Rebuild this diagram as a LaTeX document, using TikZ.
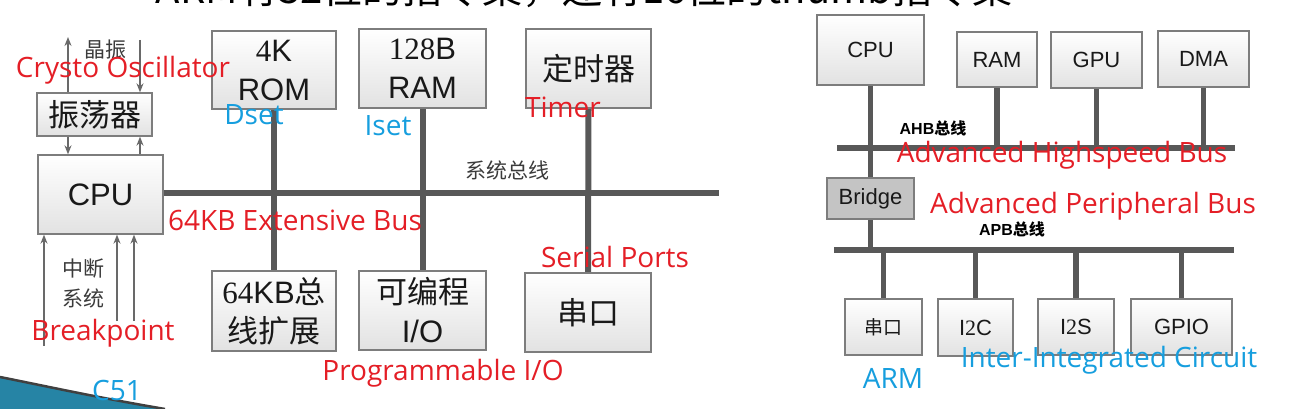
\documentclass[tikz,border=0pt]{standalone}
\usepackage{fontspec}
\setmainfont{Liberation Sans}
\newfontfamily\cjk{Noto Sans CJK SC}
\newfontfamily\digs{Liberation Serif}
\newfontfamily\notefont{Open Sans}
\usetikzlibrary{arrows.meta,backgrounds}

\definecolor{boxline}{RGB}{125,125,125}
\definecolor{boxbot}{RGB}{226,226,226}
\definecolor{busgray}{RGB}{88,88,88}
\definecolor{siggray}{RGB}{105,105,105}
\definecolor{notered}{RGB}{228,30,38}
\definecolor{noteblue}{RGB}{22,158,222}
\definecolor{inktext}{RGB}{25,25,25}
\definecolor{bridgefill}{RGB}{196,196,196}
\definecolor{swoosh}{RGB}{38,132,165}

\tikzset{
  unit/.style={draw=boxline, line width=1.3pt, top color=white, bottom color=boxbot,
    inner sep=0pt, align=center, text=inktext},
  bigunit/.style={unit, font=\fontsize{31}{39}\selectfont},
  smallunit/.style={unit, font=\fontsize{22}{26}\selectfont},
  bus/.style={draw=busgray, line width=6pt},
  thinbus/.style={draw=busgray, line width=5.5pt},
  sig/.style={draw=siggray, line width=1.5pt, -{Stealth[length=9pt,width=7pt]}},
  caption/.style={text=inktext!85, font=\cjk\fontsize{21}{30}\selectfont, align=center, inner sep=0pt},
  busname/.style={text=black, font=\bfseries\fontsize{16}{18}\selectfont, inner sep=0pt},
  rednote/.style={text=notered, font=\notefont\fontsize{28}{30}\selectfont, inner sep=0pt},
  bluenote/.style={text=noteblue, font=\notefont\fontsize{28}{30}\selectfont, inner sep=0pt},
}

\begin{document}
\begin{tikzpicture}[x=1pt, y=-1pt]
\useasboundingbox (0,0) rectangle (1296,409);

% title, cut by the top edge
\node[anchor=base, font=\cjk\fontsize{40}{44}\selectfont, inner sep=0pt] (title) at (584,4)
  {ARM有32位的指令集，还有16位的thumb指令集};

% slide corner
\fill[swoosh] (0,377) .. controls (50,387) and (100,398) .. (165,409) -- (0,409) -- cycle;
\draw[black!75, line width=2.5pt] (0,377) .. controls (50,387) and (100,398) .. (165,409);

% C51 side
\node[bigunit, minimum width=115, minimum height=43] (osc) at (94.5,114.5) {\cjk 振荡器};
\node[bigunit, minimum width=125, minimum height=79] (cpuL) at (100.5,194.5) {CPU};
\node[bigunit, minimum width=124, minimum height=78] (rom) at (274,70) {{\digs 4}K\\ROM};
\node[bigunit, minimum width=127, minimum height=79] (ramL) at (422.5,68.5) {{\digs 128}B\\RAM};
\node[bigunit, minimum width=125, minimum height=79] (timer) at (588.5,68.5) {\cjk 定时器};
\node[bigunit, minimum width=124, minimum height=80] (ext) at (274,311) {{\digs 64}KB{\cjk 总}\\{\cjk 线扩展}};
\node[bigunit, minimum width=127, minimum height=79] (pio) at (422.5,310.5) {{\cjk 可编程}\\I/O};
\node[bigunit, minimum width=126, minimum height=79] (uartL) at (588,312.5) {\cjk 串口};

\coordinate (sysend) at (719,193);
\coordinate (xtalA) at (68,37);
\coordinate (xtalB) at (140,40);
\coordinate (irqA) at (44,346);
\coordinate (irqB) at (117,321);
\coordinate (irqC) at (134,321);

\begin{pgfonlayer}{background}
  \draw[bus] (cpuL.east |- sysend) -- (sysend);
  \draw[bus] (rom.south) -- (ext.north);
  \draw[bus] (ramL.south) -- (pio.north);
  \draw[bus] (timer.south) -- (uartL.north);
\end{pgfonlayer}

\draw[sig] (osc.north -| xtalA) -- (xtalA);
\draw[sig] (xtalB) -- (osc.north -| xtalB);
\draw[sig] (osc.south -| xtalA) -- (cpuL.north -| xtalA);
\draw[sig] (cpuL.north -| xtalB) -- (osc.south -| xtalB);
\draw[sig] (irqA) -- (cpuL.south -| irqA);
\draw[sig] (irqB) -- (cpuL.south -| irqB);
\draw[sig] (irqC) -- (cpuL.south -| irqC);

\node[caption] (xtal) at (105,50) {晶振};
\node[caption] (irq) at (83,283) {中断\\系统};
\node[caption] (sysbus) at (507,170) {系统总线};

% ARM side
\node[smallunit, minimum width=107, minimum height=70] (cpuR) at (870.5,50) {CPU};
\node[smallunit, minimum width=80, minimum height=55] (ramR) at (997,59.5) {RAM};
\node[smallunit, minimum width=91, minimum height=56] (gpu) at (1096.5,60) {GPU};
\node[smallunit, minimum width=91, minimum height=56] (dma) at (1203.5,59) {DMA};
\node[smallunit, top color=bridgefill, bottom color=bridgefill, minimum width=87, minimum height=41] (bridge) at (870.5,198.5) {Bridge};
\node[smallunit, minimum width=77, minimum height=56] (uartR) at (883.5,327) {\cjk\fontsize{19}{22}\selectfont 串口};
\node[smallunit, minimum width=75, minimum height=57] (i2c) at (975.5,327.5) {I{\digs 2}C};
\node[smallunit, minimum width=76, minimum height=56] (i2s) at (1076,327) {I{\digs 2}S};
\node[smallunit, minimum width=101, minimum height=56] (gpio) at (1181.5,327) {GPIO};

\coordinate (ahbL) at (837,148);
\coordinate (ahbR) at (1235,148);
\coordinate (apbL) at (834,250);
\coordinate (apbR) at (1234,250);

\begin{pgfonlayer}{background}
  \draw[thinbus] (ahbL) -- (ahbR);
  \draw[thinbus] (apbL) -- (apbR);
  \draw[thinbus] (cpuR.south) -- (bridge.north);
  \draw[thinbus] (bridge.south) -- (bridge.south |- apbL);
  \foreach \dev in {ramR,gpu,dma}
    \draw[thinbus] (\dev.south) -- (\dev.south |- ahbL);
  \foreach \dev in {uartR,i2c,i2s,gpio}
    \draw[thinbus] (\dev.north) -- (\dev.north |- apbL);
\end{pgfonlayer}

\node[busname] (ahb) at (933,128) {AHB{\cjk 总线}};
\node[busname] (apb) at (1012,229) {APB{\cjk 总线}};

% notes laid over the picture
\node[rednote] (n1) at (123,70) {Crysto Oscillator};
\node[bluenote] (n2) at (254,115) {Dset};
\node[bluenote] (n3) at (388,126) {Iset};
\node[rednote] (n4) at (563,107) {Timer};
\node[rednote] (n5) at (295,220) {64KB Extensive Bus};
\node[rednote] (n6) at (615,257) {Serial Ports};
\node[rednote] (n7) at (443,373) {Programmable I/O};
\node[rednote] (n8) at (103,333) {Breakpoint};
\node[bluenote] (n9) at (117,390) {C51};
\node[rednote] (n10) at (1062,155) {Advanced Highspeed Bus};
\node[rednote] (n11) at (1093,206) {Advanced Peripheral Bus};
\node[bluenote] (n12) at (1109,360) {Inter-Integrated Circuit};
\node[bluenote] (n13) at (893,378) {ARM};
\end{tikzpicture}
\end{document}
